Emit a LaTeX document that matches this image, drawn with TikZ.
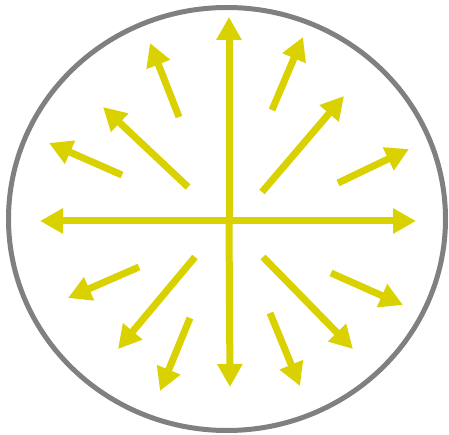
\documentclass[tikz,border=0pt]{standalone}
\usetikzlibrary{arrows.meta,shapes.geometric}
\definecolor{rimgray}{RGB}{128,128,128}
\definecolor{rayyellow}{RGB}{217,210,0}

\begin{document}
\begin{tikzpicture}[x=1pt,y=-1pt,
                    ray/.style={draw=rayyellow,line width=7pt,
                      -{Triangle[length=23pt,width=24pt]}},
                    rim/.style={draw=rimgray,line width=5pt}]
  \useasboundingbox (0,0) rectangle (449,435);
  \node[rim,ellipse,minimum width=437pt,minimum height=423pt,inner sep=0pt]
    (rim) at (227,219) {};
  \coordinate (c) at (229,221);
  % main axes
  \coordinate (n) at (229,17);
  \coordinate (s) at (230,387);
  \coordinate (w) at (40,221);
  \coordinate (e) at (416,221);
  \foreach \t in {n,s,w,e}
    \draw[ray] (c) -- (\t);
  % diagonals and short rays: name/start/tip
  \foreach \nm/\sx/\sy/\tx/\ty in {
      nw/188/187/103/107, ne/262/192/344/96,
      sw/195/257/118/349, se/263/257/353/349,
      nnw/179/117/150/43, nne/272/110/303/37,
      wnw/122/175/49/143, ene/338/183/409/149,
      wsw/139/267/68/298, ese/331/273/403/305,
      ssw/190/318/160/391, sse/270/313/300/386} {
    \coordinate (\nm-a) at (\sx,\sy);
    \coordinate (\nm-b) at (\tx,\ty);
    \draw[ray] (\nm-a) -- (\nm-b);
  }
\end{tikzpicture}
\end{document}
